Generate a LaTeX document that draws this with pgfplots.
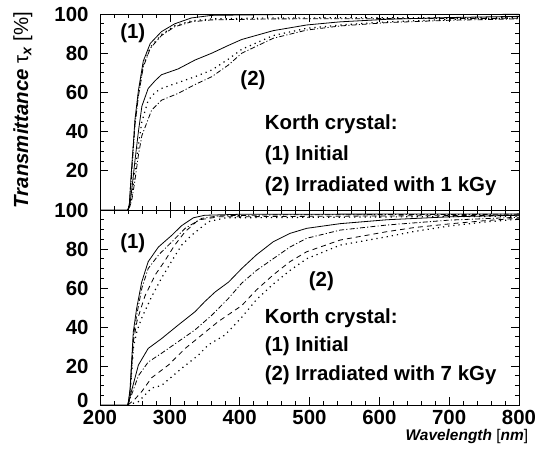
\documentclass[border=0pt]{standalone}
\usepackage{fontspec}
\setmainfont{Liberation Sans}
\usepackage{pgfplots}
\pgfplotsset{compat=1.18}
\pgfplotsset{
  panel/.style={
    scale only axis, width=419bp,
    xmin=200, xmax=800, ymin=0, ymax=100,
    xtick={200,300,...,800}, minor x tick num=4,
    minor y tick num=3,
    xtick pos=both, ytick pos=both,
    tick align=inside,
    major tick length=8bp, minor tick length=4bp,
    tick label style={font=\fontsize{20.5}{24}\selectfont\bfseries},
    yticklabel style={xshift=-8bp},
    xticklabel style={yshift=-2bp},
    /pgf/number format/assume math mode=true,
    axis line style={line width=0.8bp},
    every tick/.style={black, line width=0.6bp},
    every axis plot/.append style={black, line width=0.8bp},
  },
  sol/.style={solid},
  dot/.style={line width=1.2bp, dash pattern=on 1.2bp off 4bp},
  dd/.style={dash pattern=on 5bp off 2.2bp on 1.1bp off 2.2bp},
  das/.style={dash pattern=on 5bp off 4bp},
}
\newcommand{\txt}{\fontsize{20.5}{24}\selectfont\bfseries}
\begin{document}
\begin{tikzpicture}
\useasboundingbox (0bp,0bp) rectangle (539bp,471bp);
% ---------- top panel ----------
\begin{axis}[panel, at={(100bp,261bp)}, anchor=south west, height=196bp,
  ytick={20,40,60,80,100}, xticklabels={},
  ylabel={\fontsize{20.5}{24}\selectfont\bfseries\itshape Transmittance {\upshape\mdseries τ}\textsubscript{x} {\upshape\mdseries[\%]}},
  ylabel style={at={(axis description cs:-0.184,0.51)}, anchor=center},
]
\addplot[sol] coordinates {(200,0)(240,0)(242,3)(245,20)(248,35)(250,46)(255,61)(262,76)(272,85)(288,91)(307,95)(331,98)(360,99.3)(450,99.7)(800,99.8)};
\addplot[dot] coordinates {(240,0)(242,2)(245,18)(250,44)(255,59)(262,74)(272,83)(288,89.5)(307,94)(331,96.5)(360,97.5)(450,98)(800,98.2)};
\addplot[dd] coordinates {(240,0)(242,2)(245,17)(250,43)(255,58)(262,73)(272,82.5)(288,89)(307,93.5)(331,96)(360,97)(450,97.5)(800,97.8)};
\addplot[sol] coordinates {(240,0)(243,3)(246,12)(250,25)(255,40)(260,53)(269,62)(279,66)(288,69)(312,72)(336,76.5)(360,80)(384,84)(403,87)(448,91.5)(496,94.4)(544,96)(611,97.3)(700,98.2)(800,98.8)};
\addplot[dot] coordinates {(240,0)(243,2)(246,8)(250,20)(255,33)(260,45)(269,56)(279,60)(288,62)(312,65)(336,68)(360,71.4)(384,77)(403,82)(448,89)(496,92.7)(544,94.4)(611,96)(700,97.2)(800,98)};
\addplot[dd] coordinates {(240,0)(243,2)(246,6)(250,15)(255,28)(260,38)(274,51)(288,56)(312,59.5)(336,64)(360,68)(384,74)(403,80)(448,87.6)(496,91.8)(544,93.9)(611,95.6)(700,96.8)(800,97.5)};
\node[font=\txt] at (axis cs:247,90) {(1)};
\node[font=\txt] at (axis cs:419,66) {(2)};
\node[font=\txt, anchor=west] at (axis cs:431,44) {Korth crystal:};
\node[font=\txt, anchor=west] at (axis cs:431,28) {(1) Initial};
\node[font=\txt, anchor=west] at (axis cs:431,12) {(2) Irradiated with 1 kGy};
\end{axis}
% ---------- bottom panel ----------
\begin{axis}[panel, at={(100bp,66bp)}, anchor=south west, height=195bp,
  ytick={0,20,40,60,80,100},
  yticklabels={\raisebox{9bp}{0},20,40,60,80,100},
  xlabel={\fontsize{15.5}{18}\selectfont\bfseries\itshape Wavelength {\upshape\mdseries[}nm{\upshape\mdseries]}},
  xlabel style={at={(axis description cs:1.03,-0.164)}, anchor=east},
]
\addplot[sol] coordinates {(200,0)(240,0)(243,8)(247.7,37.6)(252.5,49.6)(259.7,63)(269,73.5)(283.6,81)(302.7,87)(317,92)(333.7,96)(350,97.3)(400,97.8)(800,98)};
\addplot[dd] coordinates {(240,0)(243,7)(248,36)(253,47)(260,60)(269,70)(284,77)(303,83.7)(322,90.6)(345.7,95.7)(370,97)(450,97.5)(800,97.8)};
\addplot[das] coordinates {(240,0)(243,6)(248,33)(253,43)(259,50)(264.5,56)(279,66.7)(293,74)(307,82)(322,88.9)(341,94.9)(370,96.5)(800,97.3)};
\addplot[dot] coordinates {(240,0)(243,5)(248,30)(253,38)(259.7,44.6)(274,55.6)(288,65)(303,74)(317,82)(331,87)(355,94)(380,96)(800,96.8)};
\addplot[sol] coordinates {(240,0)(245,7)(255,20.5)(269,29)(288,34)(312,41)(336,47.8)(350,53)(365,58)(384,63)(403,70)(424,77)(448,83.7)(472,88)(496,90.6)(544,93)(611,95)(700,96.5)(800,97.3)};
\addplot[dd] coordinates {(240,0)(245,5)(255,15)(269,22)(288,26.5)(312,32.5)(336,38.5)(360,46)(384,54.7)(403,62.5)(424,69)(448,75)(472,81)(496,85.5)(544,89.7)(611,92.3)(700,94.8)(800,96.3)};
\addplot[das] coordinates {(240,0)(250,3)(260,7)(274,14)(298,20.5)(322,29)(346,36)(369,42.7)(403,51)(424,59)(448,66.7)(472,73.5)(496,78.6)(544,84.6)(611,88.9)(650,91)(704,93)(750,94.5)(800,95.8)};
\addplot[dot] coordinates {(240,0)(255,1.7)(274,8.7)(288,10)(317,18.8)(341,25.6)(355,30.8)(379,35.9)(403,45)(424,54)(448,62)(472,69)(496,75)(544,82)(611,86.3)(650,89)(700,91.8)(750,93.8)(800,95.3)};
\node[font=\txt] at (axis cs:247,83) {(1)};
\node[font=\txt] at (axis cs:517,63.5) {(2)};
\node[font=\txt, anchor=west] at (axis cs:431,44.6) {Korth crystal:};
\node[font=\txt, anchor=west] at (axis cs:431,30) {(1) Initial};
\node[font=\txt, anchor=west] at (axis cs:431,15.4) {(2) Irradiated with 7 kGy};
\end{axis}
\end{tikzpicture}
\end{document}
